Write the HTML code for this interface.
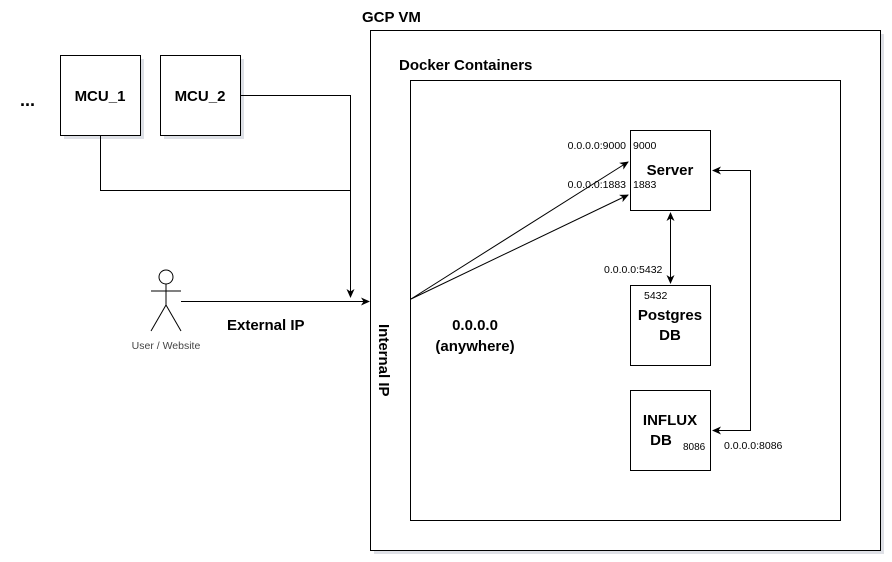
<!DOCTYPE html>
<html><head><meta charset="utf-8"><style>
html,body{margin:0;padding:0;background:#fff;}
svg{display:block;}
text{font-family:"Liberation Sans",Arial,sans-serif;fill:#000;}
.b{font-weight:bold;}
</style></head><body>
<svg width="892" height="562" viewBox="0 0 892 562" xmlns="http://www.w3.org/2000/svg">
<defs>
<marker id="a" markerWidth="10" markerHeight="10" refX="8" refY="5" orient="auto" markerUnits="userSpaceOnUse">
<path d="M0,1 L9,5 L0,9 L2.5,5 Z" fill="#000"/></marker>
<marker id="as" markerWidth="10" markerHeight="10" refX="1" refY="5" orient="auto" markerUnits="userSpaceOnUse">
<path d="M9,1 L0,5 L9,9 L6.5,5 Z" fill="#000"/></marker>
</defs>
<g fill="#c8ccd6" opacity="0.6">
<rect x="374" y="34" width="510" height="520"/>
<rect x="64" y="59" width="80" height="80"/>
<rect x="164" y="59" width="80" height="80"/>
<rect x="634" y="134" width="80" height="80"/>
<rect x="634" y="289" width="80" height="80"/>
<rect x="634" y="394" width="80" height="80"/>
</g>
<g fill="#fff" stroke="#000" stroke-width="1">
<rect x="370.5" y="30.5" width="510" height="520"/>
<rect x="410.5" y="80.5" width="430" height="440"/>
<rect x="60.5" y="55.5" width="80" height="80"/>
<rect x="160.5" y="55.5" width="80" height="80"/>
<rect x="630.5" y="130.5" width="80" height="80"/>
<rect x="630.5" y="285.5" width="80" height="80"/>
<rect x="630.5" y="390.5" width="80" height="80"/>
</g>
<text x="362" y="22" font-size="15" class="b">GCP VM</text>
<text x="399" y="70" font-size="15" class="b">Docker Containers</text>
<text x="20" y="106" font-size="18" class="b">...</text>
<text x="100" y="101" font-size="15" class="b" text-anchor="middle">MCU_1</text>
<text x="200" y="101" font-size="15" class="b" text-anchor="middle">MCU_2</text>
<text x="670" y="175" font-size="15" class="b" text-anchor="middle">Server</text>
<text x="670" y="320" font-size="15" class="b" text-anchor="middle">Postgres</text>
<text x="670" y="340" font-size="15" class="b" text-anchor="middle">DB</text>
<text x="670" y="425" font-size="15" class="b" text-anchor="middle">INFLUX</text>
<text x="661" y="445" font-size="15" class="b" text-anchor="middle">DB</text>
<text x="683" y="450" font-size="10">8086</text>
<text x="633" y="149" font-size="10.5">9000</text>
<text x="633" y="188" font-size="10.5">1883</text>
<text x="644" y="299" font-size="10.5">5432</text>
<text x="626" y="149" font-size="10.5" text-anchor="end">0.0.0.0:9000</text>
<text x="626" y="188" font-size="10.5" text-anchor="end">0.0.0.0:1883</text>
<text x="604" y="273" font-size="10.5">0.0.0.0:5432</text>
<text x="724" y="449" font-size="10.5">0.0.0.0:8086</text>
<text x="475" y="330" font-size="15" class="b" text-anchor="middle">0.0.0.0</text>
<text x="475" y="351" font-size="15" class="b" text-anchor="middle">(anywhere)</text>
<text x="227" y="330" font-size="15" class="b">External IP</text>
<text x="166" y="349" font-size="10.5" text-anchor="middle" style="fill:#444">User / Website</text>
<text transform="translate(379,324) rotate(90)" font-size="15" class="b">Internal IP</text>
<g stroke="#000" stroke-width="1" fill="none">
<circle cx="166" cy="277" r="7" fill="#fff"/>
<line x1="166" y1="284" x2="166" y2="305"/>
<line x1="151" y1="291" x2="181" y2="291"/>
<line x1="166" y1="305" x2="151" y2="331"/>
<line x1="166" y1="305" x2="181" y2="331"/>
<line x1="181" y1="301.5" x2="369" y2="301.5" marker-end="url(#a)"/>
<polyline points="240,95.5 350.5,95.5 350.5,297" marker-end="url(#a)"/>
<polyline points="100.5,135 100.5,190.5 350.5,190.5"/>
<line x1="411" y1="299" x2="628" y2="162" marker-end="url(#a)"/>
<line x1="411" y1="299" x2="628" y2="195" marker-end="url(#a)"/>
<line x1="670.5" y1="213" x2="670.5" y2="283" marker-start="url(#as)" marker-end="url(#a)"/>
<polyline points="713,170.5 750.5,170.5 750.5,430.5 713,430.5" marker-start="url(#as)" marker-end="url(#a)"/>
</g>
</svg>
</body></html>
